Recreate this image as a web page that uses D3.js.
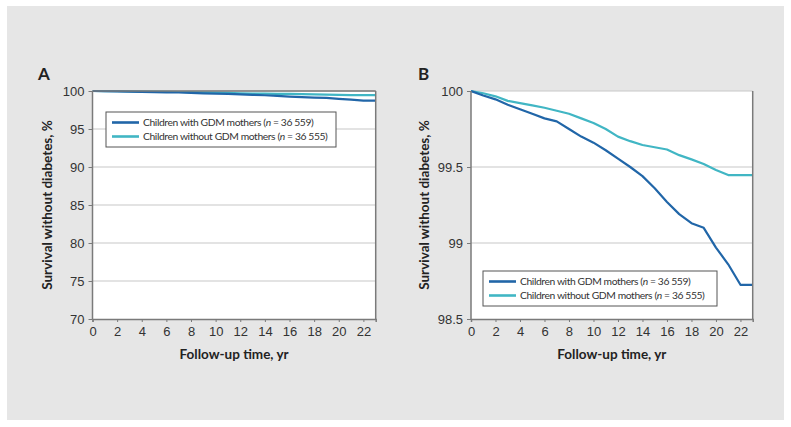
<!DOCTYPE html>
<html>
<head>
<meta charset="utf-8">
<script src="https://cdn.jsdelivr.net/npm/d3@7"></script>
<style>
  body { margin: 0; background: #fff; }
  svg { display: block; font-family: Lato, "Noto Sans", sans-serif; }
  .tick text { fill: #333; font-size: 13px; }
  .axis-title { font-weight: bold; font-size: 13.5px; fill: #222; }
  .panel-label { font-weight: bold; font-size: 17px; fill: #222; }
  .legend text { font-size: 13px; letter-spacing: -0.4px; fill: #333; }
</style>
</head>
<body>
<svg width="791" height="427"></svg>
<script>
const years = d3.range(0, 24);
const withGDM = [100, 99.97, 99.945, 99.91, 99.88, 99.85, 99.82, 99.80, 99.75, 99.70, 99.66, 99.61,
  99.555, 99.50, 99.44, 99.36, 99.27, 99.19, 99.13, 99.10, 98.97, 98.86, 98.725, 98.725];
const withoutGDM = [100, 99.985, 99.965, 99.935, 99.92, 99.905, 99.89, 99.87, 99.85, 99.82, 99.79, 99.75,
  99.70, 99.67, 99.645, 99.63, 99.615, 99.578, 99.55, 99.52, 99.48, 99.447, 99.447, 99.447];
const seriesNames = ["Children with GDM mothers", "Children without GDM mothers"];
const seriesN = ["36 559", "36 555"];
const colors = ["#2166a8", "#41b6c4"];
const xTicks = d3.range(0, 23, 2);
const yTicksA = [70, 75, 80, 85, 90, 95, 100];
const yTicksB = [98.5, 99, 99.5, 100];

const svg = d3.select("svg");

svg.append("rect")
  .attr("x", 7).attr("y", 6)
  .attr("width", 777).attr("height", 414)
  .attr("fill", "#e6e6e6");

const series = [withGDM, withoutGDM].map((vals, i) => ({
  name: seriesNames[i],
  n: seriesN[i],
  color: colors[i],
  values: years.map((t, j) => ({ t, v: vals[j] }))
}));

// widest legend label in the reference (px)
const legendTextMax = 188;

const drawPanel = (cfg) => {
  const x = d3.scaleLinear().domain([0, 23]).range([cfg.left, cfg.right]);
  const y = d3.scaleLinear().domain(cfg.yDomain).range([cfg.bottom, cfg.top]);
  const g = svg.append("g");

  g.append("rect")
    .attr("x", cfg.left).attr("y", cfg.top)
    .attr("width", cfg.right - cfg.left).attr("height", cfg.bottom - cfg.top)
    .attr("fill", "#fff");

  // gridlines
  g.append("g")
    .selectAll("line")
    .data(cfg.yTicks.filter(d => d !== cfg.yDomain[0]))
    .join("line")
      .attr("x1", cfg.left).attr("x2", cfg.right)
      .attr("y1", d => y(d)).attr("y2", d => y(d))
      .attr("stroke", "#c8c8c8")
      .attr("stroke-width", 1.2);

  const clipId = `clip-${cfg.label}`;
  g.append("clipPath").attr("id", clipId)
    .append("rect")
      .attr("x", cfg.left).attr("y", cfg.top - 3)
      .attr("width", cfg.right - cfg.left).attr("height", cfg.bottom - cfg.top + 3);

  const line = d3.line().x(d => x(d.t)).y(d => y(d.v));

  g.append("g")
      .attr("clip-path", `url(#${clipId})`)
    .selectAll("path")
    .data(series.slice().reverse())
    .join("path")
      .attr("d", d => line(d.values))
      .attr("fill", "none")
      .attr("stroke", d => d.color)
      .attr("stroke-width", 2.2)
      .attr("stroke-linejoin", "round");

  // frame
  const frame = g.append("g").attr("stroke", "#7a7a7a").attr("stroke-width", 1.5);
  frame.append("line").attr("x1", cfg.left).attr("x2", cfg.left).attr("y1", cfg.top).attr("y2", cfg.bottom);
  frame.append("line").attr("x1", cfg.right).attr("x2", cfg.right).attr("y1", cfg.top).attr("y2", cfg.bottom);
  if (cfg.topFrame) {
    frame.append("line").attr("x1", cfg.left).attr("x2", cfg.right).attr("y1", cfg.top).attr("y2", cfg.top);
  }

  const xAxis = g.append("g")
      .attr("transform", `translate(0,${cfg.bottom})`)
      .call(d3.axisBottom(x).tickValues(xTicks).tickSize(3).tickPadding(5));
  xAxis.select(".domain").attr("stroke", "#7a7a7a").attr("stroke-width", 1.5);
  xAxis.selectAll(".tick line").attr("stroke", "#7a7a7a");

  const yAxis = g.append("g")
      .attr("transform", `translate(${cfg.left},0)`)
      .call(d3.axisLeft(y).tickValues(cfg.yTicks).tickFormat(d => String(d)).tickSize(4).tickPadding(4));
  yAxis.select(".domain").remove();
  yAxis.selectAll(".tick line").attr("stroke", "#7a7a7a");

  g.append("text")
    .attr("class", "axis-title")
    .attr("text-anchor", "middle")
    .attr("x", (cfg.left + cfg.right) / 2)
    .attr("y", cfg.bottom + 40)
    .text("Follow-up time, yr");

  g.append("text")
    .attr("class", "axis-title")
    .attr("text-anchor", "middle")
    .attr("transform", `translate(${cfg.yTitleX},${(cfg.top + cfg.bottom) / 2}) rotate(-90)`)
    .text("Survival without diabetes, %");

  g.append("text")
    .attr("class", "panel-label")
    .attr("x", cfg.labelX)
    .attr("y", cfg.top - 11)
    .text(cfg.label);

  // legend
  const lg = g.append("g")
      .attr("class", "legend")
      .attr("transform", `translate(${cfg.legendX},${cfg.legendY})`);
  lg.append("rect")
    .attr("width", cfg.legendW).attr("height", 35)
    .attr("fill", "#fff")
    .attr("stroke", "#555")
    .attr("stroke-width", 1);
  const item = lg.selectAll("g.item")
    .data(series)
    .join("g")
      .attr("class", "item")
      .attr("transform", (d, i) => `translate(0,${10.5 + i * 14})`);
  item.append("line")
    .attr("x1", 6).attr("x2", 33)
    .attr("stroke", d => d.color)
    .attr("stroke-width", 2.6);
  const label = item.append("text")
    .attr("x", 37).attr("dy", "0.35em");
  label.append("tspan").text(d => `${d.name} (`);
  label.append("tspan").attr("font-style", "italic").text("n");
  label.append("tspan").text(d => ` = ${d.n})`);
  // shrink the font until the widest label fits the box
  const widest = d3.max(label.nodes(), n => n.getComputedTextLength());
  if (widest > legendTextMax) {
    label.style("font-size", `${13 * legendTextMax / widest}px`);
  }
};

drawPanel({
  label: "A", labelX: 38,
  left: 92.5, right: 375.7, top: 91, bottom: 319,
  yDomain: [70, 100], yTicks: yTicksA, topFrame: true,
  yTitleX: 52,
  legendX: 106, legendY: 112, legendW: 230
});

drawPanel({
  label: "B", labelX: 418,
  left: 471, right: 752.7, top: 91, bottom: 319,
  yDomain: [98.5, 100], yTicks: yTicksB, topFrame: false,
  yTitleX: 429,
  legendX: 483, legendY: 271, legendW: 234
});
</script>
</body>
</html>
